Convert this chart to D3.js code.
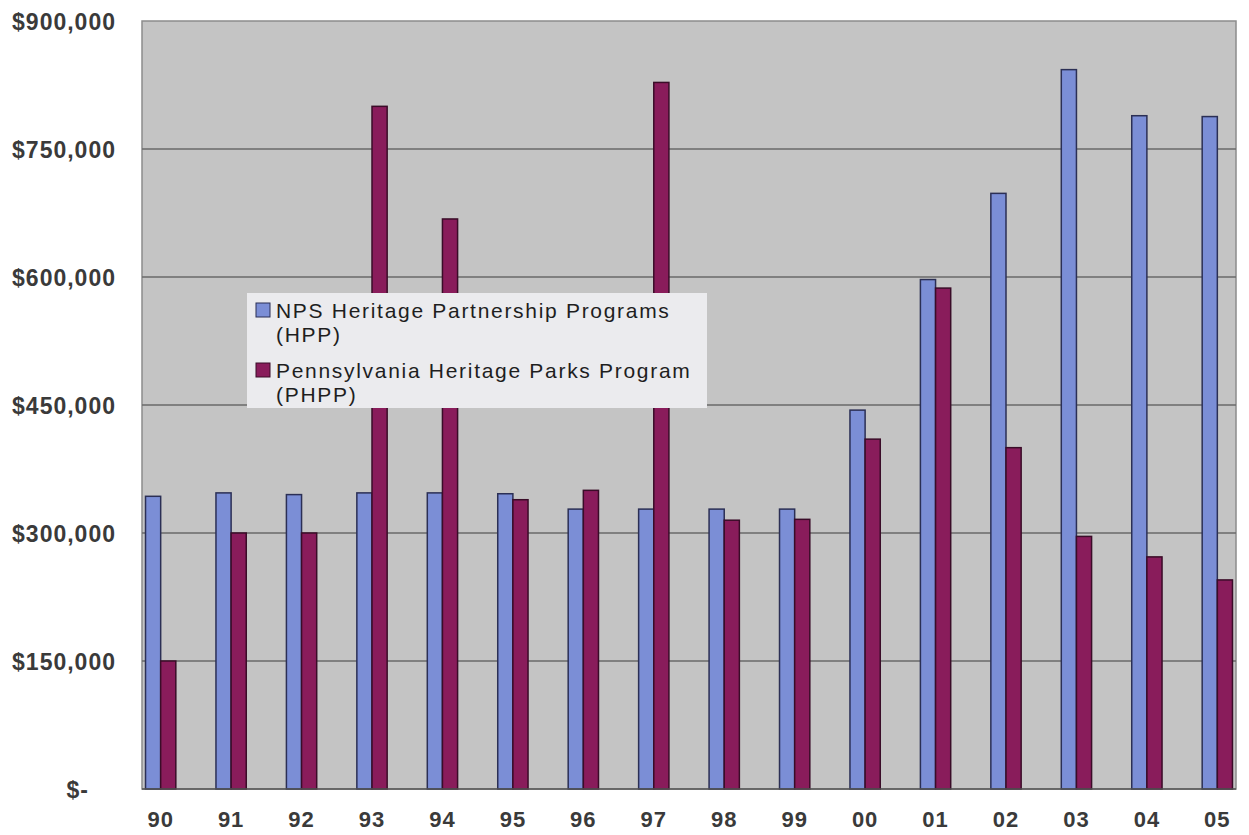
<!DOCTYPE html>
<html>
<head>
<meta charset="utf-8">
<script src="https://cdn.jsdelivr.net/npm/d3@7"></script>
<style>
  body { margin: 0; background: #fff; }
  text { font-family: Arial, "Liberation Sans", sans-serif; }
</style>
</head>
<body>
<div id="chart"></div>
<script>
var years = ['90','91','92','93','94','95','96','97','98','99','00','01','02','03','04','05'];
var hppValues  = [343000, 347000, 345000, 347000, 347000, 346000, 328000, 328000, 328000, 328000, 444000, 597000, 698000, 843000, 789000, 788000];
var phppValues = [150000, 300000, 300000, 800000, 668000, 339000, 350000, 828000, 315000, 316000, 410000, 587000, 400000, 296000, 272000, 245000];
var seriesNames = ['NPS Heritage Partnership Programs (HPP)', 'Pennsylvania Heritage Parks Program (PHPP)'];
var yTicks = [0, 150000, 300000, 450000, 600000, 750000, 900000];

var width = 1249, height = 835;
var plotLeft = 142, plotRight = 1236, plotTop = 21, plotBottom = 789;
var colors = ['#7b8ed6', '#891c5b'];
var strokes = ['#2b2f55', '#3a0c28'];

var svg = d3.select('#chart').append('svg')
            .attr('width', width)
            .attr('height', height);

// plot background
svg.append('rect')
   .attr('x', plotLeft).attr('y', plotTop)
   .attr('width', plotRight - plotLeft).attr('height', plotBottom - plotTop)
   .attr('fill', '#c4c4c4')
   .attr('stroke', '#8c8c8c')
   .attr('stroke-width', 1.5);

var x = d3.scaleBand()
          .domain(years)
          .range([plotLeft, plotRight])
          .paddingInner(0.57)
          .paddingOuter(0.05);

var xs = d3.scaleBand()
           .domain([0, 1])
           .range([0, x.bandwidth()]);

var y = d3.scaleLinear()
          .domain([0, 900000])
          .range([plotBottom, plotTop]);

// gridlines
svg.selectAll('line.grid')
   .data(yTicks.slice(1, -1))
   .enter()
   .append('line')
     .attr('class', 'grid')
     .attr('x1', plotLeft).attr('x2', plotRight)
     .attr('y1', function(d) { return y(d); })
     .attr('y2', function(d) { return y(d); })
     .attr('stroke', '#6a6a6a')
     .attr('stroke-width', 1.3);

var rows = years.map(function(yr, i) { return { year: yr, values: [hppValues[i], phppValues[i]] }; });

var groups = svg.selectAll('g.year')
   .data(rows)
   .enter()
   .append('g')
     .attr('transform', function(d) { return 'translate(' + x(d.year) + ',0)'; });

groups.selectAll('rect')
   .data(function(d) { return d.values; })
   .enter()
   .append('rect')
     .attr('x', function(d, i) { return xs(i); })
     .attr('y', function(d) { return y(d); })
     .attr('width', xs.bandwidth())
     .attr('height', function(d) { return plotBottom - y(d); })
     .attr('fill', function(d, i) { return colors[i]; })
     .attr('stroke', function(d, i) { return strokes[i]; })
     .attr('stroke-width', 1.5);

// baseline
svg.append('line')
   .attr('x1', plotLeft).attr('x2', plotRight)
   .attr('y1', plotBottom).attr('y2', plotBottom)
   .attr('stroke', '#555').attr('stroke-width', 1.5);

// y axis
var yAxis = svg.append('g')
   .attr('transform', 'translate(116,0)')
   .call(d3.axisLeft(y)
           .tickValues(yTicks)
           .tickSize(0)
           .tickFormat(function(d) { return d === 0 ? '$-' : d3.format('$,')(d); }));
yAxis.select('.domain').remove();
yAxis.selectAll('text')
     .attr('x', function(d) { return d === 0 ? -27 : 0; })
     .attr('dy', '0.35em')
     .attr('font-size', 23)
     .attr('letter-spacing', 1)
     .attr('font-weight', 'bold')
     .attr('fill', '#3a3a3a');

// x axis
var xAxis = svg.append('g')
   .attr('transform', 'translate(0,' + plotBottom + ')')
   .call(d3.axisBottom(x).tickSize(0).tickPadding(22));
xAxis.select('.domain').remove();
xAxis.selectAll('text')
     .attr('font-size', 22)
     .attr('letter-spacing', 1)
     .attr('font-weight', 'bold')
     .attr('fill', '#3a3a3a');

// legend
var legend = svg.append('g').attr('transform', 'translate(247,293)');
legend.append('rect')
      .attr('width', 460).attr('height', 115)
      .attr('fill', '#ebebee');

var legendLines = [['NPS Heritage Partnership Programs', '(HPP)'], ['Pennsylvania Heritage Parks Program', '(PHPP)']];
seriesNames.forEach(function(name, i) {
    var g = legend.append('g').attr('transform', 'translate(0,' + (i * 60) + ')');
    g.append('rect')
     .attr('x', 9).attr('y', 10)
     .attr('width', 14).attr('height', 14)
     .attr('fill', colors[i])
     .attr('stroke', strokes[i]).attr('stroke-width', 1);
    g.append('text')
     .attr('x', 29).attr('y', 25)
     .attr('font-size', 21)
     .attr('letter-spacing', 1.7)
     .attr('fill', '#1e1e1e')
     .selectAll('tspan')
     .data(legendLines[i])
     .enter()
     .append('tspan')
       .attr('x', 29)
       .attr('dy', function(d, j) { return j ? 24 : 0; })
       .text(function(d) { return d; });
});
</script>
</body>
</html>
